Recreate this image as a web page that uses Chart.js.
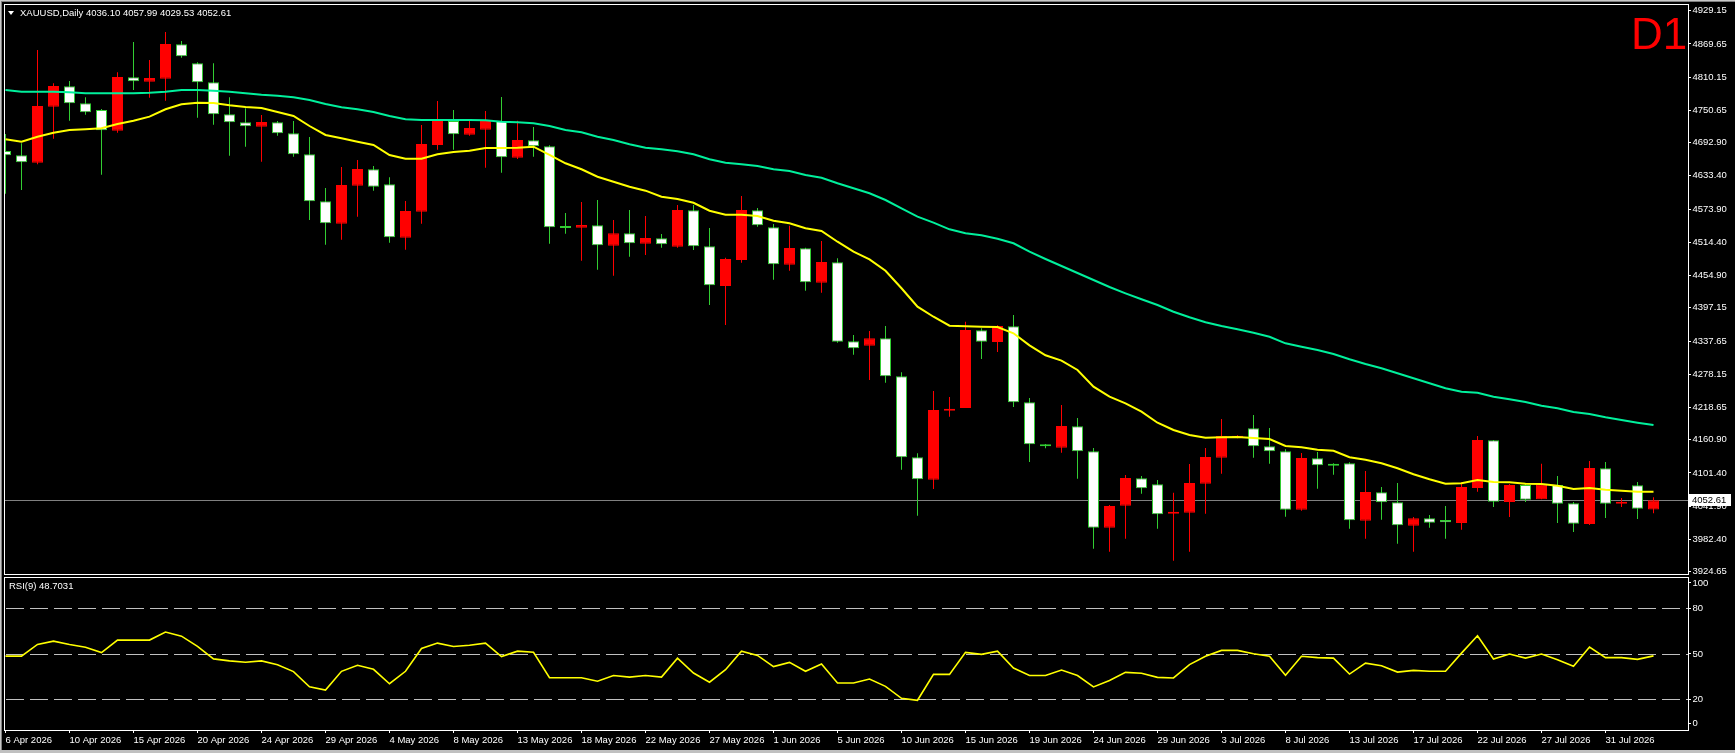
<!DOCTYPE html>
<html>
<head>
<meta charset="utf-8">
<title>XAUUSD Daily</title>
<script src="https://cdn.jsdelivr.net/npm/chart.js@4.4.1/dist/chart.umd.min.js"></script>
<style>
  html, body { margin: 0; padding: 0; background: #000; }
  body { width: 1735px; height: 753px; position: relative; overflow: hidden;
         font-family: "Liberation Sans", Arial, sans-serif; }
  canvas { position: absolute; left: 0; }
  #main { top: 0; }
  #rsi { top: 576px; }
  .edge { position: absolute; z-index: 3; }
  .label { position: absolute; z-index: 4; color: #fff; font-size: 9.5px; line-height: 12px; white-space: nowrap; }
  #tri { position: absolute; z-index: 4; left: 8px; top: 11px; width: 0; height: 0;
         border-left: 3px solid transparent; border-right: 3px solid transparent; border-top: 4px solid #fff; }
  #tf { position: absolute; z-index: 4; left: 1631px; top: 12px; color: #f00;
        font-size: 44px; line-height: 44px; }
</style>
</head>
<body>
<div class="edge" style="left:0;top:0;width:1735px;height:1px;background:#c8c8c8"></div>
<div class="edge" style="left:0;top:1px;width:1735px;height:1px;background:#808080"></div>
<div class="edge" style="left:0;top:0;width:1px;height:753px;background:#c8c8c8"></div>
<div class="edge" style="left:1px;top:1px;width:1px;height:752px;background:#808080"></div>
<div class="edge" style="left:0;top:750px;width:1735px;height:3px;background:#c0c0c0"></div>

<canvas id="main" width="1735" height="576"></canvas>
<canvas id="rsi" width="1735" height="177"></canvas>

<div id="tri"></div>
<div class="label" id="title" style="left:20px;top:7px"></div>
<div id="tf">D1</div>
<div class="label" id="rsiTitle" style="left:9px;top:580px"></div>

<script>
// daily candles, 6 Apr 2026 .. 4 Aug 2026
const opens = [
  4677.9, 4670.2, 4657.0, 4757.3, 4793.8, 4763.4, 4751.4, 4714.3, 4809.9, 4802.0,
  4807.4, 4869.0, 4835.0, 4801.0, 4743.7, 4729.3, 4721.5, 4729.3, 4709.6, 4672.0,
  4587.9, 4547.8, 4615.8, 4645.2, 4618.3, 4522.7, 4569.3, 4688.7, 4731.7, 4707.1,
  4716.1, 4731.7, 4665.9, 4697.1, 4686.4, 4540.6, 4540.6, 4544.9, 4508.4, 4530.6,
  4512.0, 4521.6, 4506.6, 4571.8, 4507.3, 4436.2, 4482.8, 4571.8, 4541.3, 4474.4,
  4503.7, 4442.1, 4478.7, 4337.2, 4329.3, 4342.6, 4274.5, 4129.5, 4089.4, 4212.9,
  4217.8, 4356.9, 4335.9, 4364.1, 4228.0, 4152.8, 4146.7, 4185.0, 4140.2, 4003.4,
  4042.8, 4091.9, 4081.1, 4028.5, 4030.3, 4082.2, 4128.8, 4164.6, 4181.4, 4149.2,
  4140.2, 4035.7, 4127.7, 4115.2, 4118.8, 4016.0, 4066.8, 4048.9, 4007.0, 4020.3,
  4017.2, 4011.9, 4074.5, 4159.9, 4049.5, 4079.9, 4054.3, 4079.9, 4047.1, 4010.1,
  4109.8, 4046.4, 4079.3, 4036.10
];
const highs = [
  4708.4, 4691.7, 4858.8, 4799.2, 4803.3, 4774.1, 4753.1, 4818.9, 4873.1, 4840.9,
  4891.0, 4874.9, 4836.8, 4835.0, 4774.1, 4754.4, 4742.4, 4731.7, 4731.7, 4703.0,
  4611.7, 4649.3, 4661.8, 4651.1, 4630.9, 4588.4, 4724.5, 4767.5, 4751.4, 4731.7,
  4749.6, 4774.6, 4732.2, 4720.9, 4688.1, 4566.9, 4586.6, 4590.2, 4554.4, 4572.3,
  4561.6, 4529.3, 4581.3, 4581.3, 4540.1, 4486.9, 4597.4, 4575.9, 4547.2, 4544.2,
  4504.8, 4516.8, 4485.8, 4348.5, 4355.6, 4364.6, 4281.7, 4136.7, 4248.2, 4237.5,
  4372.3, 4360.5, 4365.8, 4384.3, 4235.7, 4153.3, 4223.1, 4199.9, 4146.1, 4044.1,
  4097.8, 4096.0, 4088.9, 4066.1, 4117.5, 4146.1, 4198.1, 4168.9, 4205.2, 4182.0,
  4143.8, 4137.2, 4139.0, 4118.8, 4120.5, 4105.0, 4076.3, 4083.5, 4022.6, 4026.2,
  4042.3, 4084.7, 4167.6, 4160.5, 4081.7, 4081.7, 4118.0, 4096.0, 4049.5, 4122.9,
  4121.1, 4056.6, 4085.3, 4057.99
];
const lows = [
  4601.5, 4608.1, 4654.1, 4700.0, 4732.2, 4742.9, 4635.5, 4710.7, 4787.2, 4773.4,
  4768.0, 4845.0, 4737.6, 4725.0, 4669.5, 4685.6, 4658.8, 4705.3, 4667.7, 4554.4,
  4510.2, 4519.1, 4560.3, 4606.9, 4513.7, 4501.2, 4547.8, 4680.3, 4680.3, 4705.3,
  4648.0, 4639.1, 4663.6, 4667.7, 4512.0, 4529.9, 4481.5, 4465.4, 4454.7, 4488.7,
  4491.7, 4504.8, 4504.8, 4500.7, 4402.2, 4366.4, 4477.9, 4542.4, 4447.5, 4463.6,
  4427.8, 4424.2, 4334.7, 4313.2, 4267.9, 4263.1, 4107.3, 4024.9, 4072.7, 4202.2,
  4217.8, 4305.5, 4318.0, 4219.6, 4121.1, 4145.6, 4137.7, 4091.2, 3965.8, 3960.5,
  3983.7, 4064.3, 4001.7, 3944.4, 3960.5, 4028.5, 4100.1, 4163.5, 4128.8, 4118.0,
  4023.1, 4033.9, 4073.3, 4098.3, 4001.7, 3983.7, 4017.8, 3974.8, 3960.5, 4003.4,
  3983.7, 3999.8, 4067.9, 4040.5, 4022.6, 4049.5, 4054.3, 4011.9, 3995.7, 4008.3,
  4020.8, 4040.5, 4019.0, 4029.53
];
const closes = [
  4670.2, 4657.7, 4758.5, 4794.3, 4763.4, 4747.2, 4715.0, 4810.4, 4802.7, 4808.7,
  4869.5, 4847.5, 4801.0, 4743.7, 4729.3, 4722.2, 4729.9, 4709.6, 4672.0, 4587.9,
  4548.5, 4617.1, 4645.7, 4614.0, 4523.4, 4570.5, 4690.5, 4731.7, 4707.8, 4719.1,
  4731.7, 4666.7, 4697.6, 4686.4, 4541.3, 4540.2, 4545.4, 4509.1, 4530.6, 4512.7,
  4522.2, 4510.9, 4572.3, 4507.3, 4437.5, 4484.6, 4572.3, 4544.9, 4475.1, 4504.3,
  4442.8, 4479.2, 4336.5, 4324.7, 4342.6, 4274.5, 4129.5, 4090.1, 4214.2, 4216.0,
  4357.4, 4336.5, 4364.6, 4228.0, 4152.8, 4149.2, 4185.5, 4140.2, 4003.4, 4042.3,
  4092.4, 4074.0, 4027.4, 4031.6, 4083.5, 4130.0, 4167.6, 4167.6, 4149.2, 4140.2,
  4035.7, 4128.2, 4115.2, 4114.5, 4016.7, 4067.4, 4048.9, 4007.7, 4020.3, 4012.4,
  4013.1, 4076.3, 4160.5, 4050.0, 4079.9, 4053.6, 4080.4, 4046.4, 4010.6, 4110.3,
  4046.4, 4049.5, 4037.5, 4052.61
];

// moving averages as drawn on the chart (yellow fast, green slow)
const maFast = [
  4698.9, 4694.6, 4703.5, 4710.7, 4715.5, 4716.8, 4718.6, 4726.3, 4732.2, 4739.4,
  4752.6, 4761.6, 4764.4, 4763.9, 4759.8, 4756.7, 4754.9, 4747.8, 4740.6, 4722.7,
  4706.6, 4700.7, 4694.6, 4688.7, 4670.8, 4664.2, 4664.2, 4672.0, 4676.2, 4678.5,
  4683.3, 4683.3, 4683.9, 4685.6, 4670.8, 4655.9, 4645.2, 4631.9, 4623.0, 4614.0,
  4606.9, 4596.1, 4592.0, 4585.2, 4571.0, 4563.9, 4563.9, 4561.6, 4553.1, 4548.5,
  4539.5, 4534.7, 4515.5, 4497.6, 4484.0, 4463.6, 4432.1, 4399.2, 4381.2, 4365.1,
  4364.1, 4363.3, 4362.8, 4351.5, 4329.9, 4312.1, 4302.5, 4285.8, 4255.9, 4238.0,
  4226.2, 4211.1, 4191.4, 4178.4, 4169.4, 4164.6, 4165.3, 4165.8, 4164.1, 4162.3,
  4149.7, 4147.4, 4143.1, 4141.3, 4129.5, 4125.2, 4118.8, 4109.8, 4099.1, 4090.1,
  4082.2, 4082.9, 4088.9, 4085.3, 4084.7, 4082.2, 4081.7, 4078.6, 4072.7, 4074.5,
  4071.5, 4069.7, 4067.9, 4067.9
];
const maSlow = [
  4787.2, 4784.1, 4784.1, 4784.1, 4783.0, 4781.3, 4781.3, 4781.3, 4781.3, 4782.3,
  4784.1, 4787.2, 4787.2, 4785.9, 4784.1, 4781.3, 4778.7, 4777.0, 4774.1, 4769.3,
  4762.1, 4756.2, 4752.6, 4747.8, 4740.6, 4734.7, 4733.4, 4733.4, 4733.4, 4733.4,
  4732.9, 4730.4, 4729.3, 4727.5, 4722.7, 4715.5, 4711.4, 4703.5, 4697.6, 4689.9,
  4683.9, 4681.0, 4677.4, 4672.0, 4663.1, 4657.0, 4654.1, 4651.1, 4645.2, 4642.1,
  4635.0, 4630.1, 4620.1, 4611.2, 4602.2, 4590.2, 4575.3, 4560.3, 4549.6, 4537.7,
  4530.6, 4527.0, 4520.9, 4512.7, 4497.6, 4484.6, 4472.0, 4459.5, 4447.0, 4434.4,
  4423.1, 4412.4, 4402.2, 4390.2, 4380.2, 4371.2, 4364.6, 4358.7, 4352.6, 4345.4,
  4333.6, 4327.5, 4321.6, 4314.5, 4305.0, 4296.6, 4288.9, 4279.9, 4271.0, 4262.0,
  4253.0, 4247.0, 4245.2, 4238.0, 4233.3, 4228.5, 4221.9, 4217.2, 4210.6, 4207.0,
  4201.1, 4196.3, 4191.5, 4187.3
];

// RSI(9)
const rsi = [
  48.5, 48.5, 56.2, 58.4, 56.2, 54.4, 50.9, 59.1, 59.1, 59.1,
  64.4, 61.7, 54.9, 46.7, 45.4, 44.5, 45.4, 42.9, 38.3, 28.3,
  26.1, 38.5, 42.5, 39.8, 30.3, 38.5, 53.6, 57.1, 54.9, 55.7,
  57.1, 48.2, 51.8, 51.1, 34.3, 34.3, 34.3, 32.0, 35.7, 34.7,
  35.7, 34.7, 47.2, 37.4, 31.3, 39.6, 51.8, 49.0, 41.6, 44.4,
  38.5, 43.3, 30.8, 30.8, 33.4, 28.6, 20.7, 19.4, 36.5, 36.5,
  51.0, 49.7, 51.8, 40.7, 35.7, 35.7, 39.3, 35.7, 28.2, 32.4,
  37.8, 37.2, 34.5, 34.1, 42.9, 48.4, 52.3, 52.3, 50.1, 48.4,
  35.9, 48.4, 47.5, 47.2, 36.7, 43.9, 42.2, 38.0, 39.1, 38.5,
  38.5, 50.5, 62.0, 46.6, 49.9, 47.2, 49.9, 46.2, 41.8, 54.5,
  47.5, 47.5, 46.4, 48.7031
];

const dateTicks = [
  '6 Apr 2026', '10 Apr 2026', '15 Apr 2026', '20 Apr 2026', '24 Apr 2026', '29 Apr 2026',
  '4 May 2026', '8 May 2026', '13 May 2026', '18 May 2026', '22 May 2026', '27 May 2026',
  '1 Jun 2026', '5 Jun 2026', '10 Jun 2026', '15 Jun 2026', '19 Jun 2026', '24 Jun 2026',
  '29 Jun 2026', '3 Jul 2026', '8 Jul 2026', '13 Jul 2026', '17 Jul 2026', '22 Jul 2026',
  '27 Jul 2026', '31 Jul 2026'
];
const priceTicks = [
  4929.15, 4869.65, 4810.15, 4750.65, 4692.90, 4633.40, 4573.90, 4514.40, 4454.90,
  4397.15, 4337.65, 4278.15, 4218.65, 4160.90, 4101.40, 4041.90, 3982.40, 3924.65
];
const rsiTicks = [100, 80, 50, 20, 0];
const rsiLevels = [80, 50, 20];

const RED = '#ff0000';
const WHITE = '#ffffff';
const GREEN = '#32cd32';
const YELLOW = '#ffff00';
const TEAL = '#00f09c';
const FONT = { family: "'Liberation Sans', Arial, sans-serif", size: 9.5 };

// 16 px per bar, axis area 47 px wide on the right
const X_MIN = -0.09375;
const X_MAX = 105.15625;
const LABEL_EVERY = 4;
const AXIS_W = 47;

Chart.defaults.font = { ...Chart.defaults.font, ...FONT };
Chart.defaults.color = '#fff';
Chart.defaults.animation = false;

const last = closes.length - 1;
document.getElementById('title').textContent =
  'XAUUSD,Daily  ' + [opens[last], highs[last], lows[last], closes[last]].map(v => v.toFixed(2)).join(' ');
document.getElementById('rsiTitle').textContent = 'RSI(9) ' + rsi[last].toFixed(4);

const bull = closes.map((c, i) => c >= opens[i]);
const points = arr => arr.map((v, i) => ({ x: i, y: v }));

const noPad = s => { s.paddingTop = 0; s.paddingBottom = 0; s.paddingLeft = 0; s.paddingRight = 0; };

const panelFrame = {
  id: 'panelFrame',
  afterDraw(chart) {
    const { ctx, chartArea: a } = chart;
    ctx.save();
    ctx.strokeStyle = '#fff';
    ctx.lineWidth = 1;
    ctx.strokeRect(a.left + 0.5, a.top + 0.5, a.right - a.left, a.bottom - a.top);
    ctx.restore();
  }
};

const lastPrice = {
  id: 'lastPrice',
  beforeDatasetsDraw(chart) {
    const { ctx, chartArea: a, scales: { y } } = chart;
    const py = Math.round(y.getPixelForValue(closes[last])) + 0.5;
    ctx.save();
    ctx.strokeStyle = '#808080';
    ctx.lineWidth = 1;
    ctx.beginPath();
    ctx.moveTo(a.left, py);
    ctx.lineTo(a.right, py);
    ctx.stroke();
    ctx.restore();
  },
  afterDraw(chart) {
    const { ctx, chartArea: a, scales: { y } } = chart;
    const py = Math.round(y.getPixelForValue(closes[last]));
    ctx.save();
    ctx.fillStyle = '#fff';
    ctx.fillRect(a.right + 1, py - 6, 42, 12);
    ctx.fillStyle = '#000';
    ctx.font = "9.5px 'Liberation Sans', Arial, sans-serif";
    ctx.textBaseline = 'middle';
    ctx.fillText(closes[last].toFixed(2), a.right + 4, py + 0.5);
    ctx.restore();
  }
};

const rsiLevelLines = {
  id: 'rsiLevelLines',
  beforeDatasetsDraw(chart) {
    const { ctx, chartArea: a, scales: { y } } = chart;
    ctx.save();
    ctx.strokeStyle = '#c0c0c0';
    ctx.lineWidth = 1;
    ctx.setLineDash([18, 6]);
    rsiLevels.forEach(v => {
      const py = Math.round(y.getPixelForValue(v)) + 0.5;
      ctx.beginPath();
      ctx.moveTo(a.left + 2, py);
      ctx.lineTo(a.right, py);
      ctx.stroke();
    });
    ctx.restore();
  }
};

const mainChart = () => {
  const ctx = document.getElementById('main');
  new Chart(ctx, {
    type: 'bar',
    data: {
      datasets: [
        { type: 'line', data: points(maSlow), borderColor: TEAL, borderWidth: 2, pointRadius: 0, order: 0 },
        { type: 'line', data: points(maFast), borderColor: YELLOW, borderWidth: 2, pointRadius: 0, order: 0 },
        {
          data: opens.map((o, i) => ({ x: i, y: [o, closes[i]] })),
          backgroundColor: bull.map(b => b ? RED : WHITE),
          borderColor: bull.map(b => b ? RED : GREEN),
          borderWidth: 1, borderSkipped: false, inflateAmount: 0,
          barThickness: 11, minBarLength: 2, grouped: false, order: 1
        },
        {
          data: highs.map((h, i) => ({ x: i, y: [lows[i], h] })),
          backgroundColor: bull.map(b => b ? RED : GREEN),
          borderWidth: 0, inflateAmount: 0,
          barThickness: 1, grouped: false, order: 2
        }
      ]
    },
    options: {
      responsive: false,
      devicePixelRatio: 1,
      layout: { padding: { left: 4, top: 4, right: 0, bottom: 2 } },
      plugins: { legend: { display: false }, tooltip: { enabled: false } },
      scales: {
        x: { type: 'linear', min: X_MIN, max: X_MAX, offset: false, display: false },
        y: {
          position: 'right', min: 3920.53, max: 4941.15, beginAtZero: false,
          afterBuildTicks: s => { s.ticks = priceTicks.map(v => ({ value: v })); },
          afterFit: s => { s.width = AXIS_W; noPad(s); },
          grid: { drawOnChartArea: false, drawTicks: true, tickLength: 3, color: '#fff' },
          border: { display: false },
          ticks: { color: '#fff', padding: 1.5, autoSkip: false, callback: v => v.toFixed(2) }
        }
      }
    },
    plugins: [lastPrice, panelFrame]
  });
};

const rsiChart = () => {
  const ctx = document.getElementById('rsi');
  new Chart(ctx, {
    type: 'line',
    data: {
      datasets: [
        { data: points(rsi), borderColor: YELLOW, borderWidth: 1.6, pointRadius: 0 }
      ]
    },
    options: {
      responsive: false,
      devicePixelRatio: 1,
      layout: { padding: { left: 4, top: 1, right: 0, bottom: 0 } },
      plugins: { legend: { display: false }, tooltip: { enabled: false } },
      scales: {
        x: {
          type: 'linear', min: X_MIN, max: X_MAX, offset: false,
          afterBuildTicks: s => { s.ticks = dateTicks.map((d, k) => ({ value: k * LABEL_EVERY })); },
          afterFit: s => { s.height = 23; noPad(s); },
          grid: { drawOnChartArea: false, drawTicks: true, tickLength: 3, color: '#fff' },
          border: { display: false },
          ticks: {
            color: '#fff', align: 'start', padding: 2, autoSkip: false,
            maxRotation: 0, minRotation: 0, callback: (v, k) => dateTicks[k]
          }
        },
        y: {
          position: 'right', min: -0.2, max: 100.7,
          // keep the 100 and 0 labels inside the panel
          afterBuildTicks: s => {
            s.ticks = rsiTicks.map(v => ({ value: v === 100 ? v - 3.2 : v === 0 ? v + 4.4 : v }));
          },
          afterFit: s => { s.width = AXIS_W; noPad(s); },
          grid: { drawOnChartArea: false, drawTicks: true, tickLength: 3, color: '#fff' },
          border: { display: false },
          ticks: { color: '#fff', padding: 1.5, autoSkip: false, callback: (v, k) => String(rsiTicks[k]) }
        }
      }
    },
    plugins: [rsiLevelLines, panelFrame]
  });
};

mainChart();
rsiChart();
</script>
</body>
</html>
